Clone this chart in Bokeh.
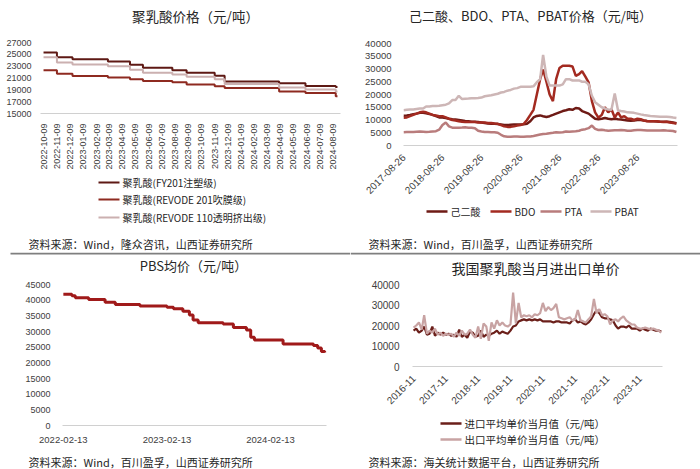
import pandas as pd
from bokeh.plotting import figure
from bokeh.models import (Label, Range1d, FixedTicker, DatetimeTickFormatter, BoxAnnotation)
from bokeh.layouts import column, row
from bokeh.embed import file_html
from bokeh.resources import INLINE
import math

CJK = "Noto Sans CJK SC"
NUM = "Liberation Sans"

# ---------------- Panel 1: PLA prices (step series) ----------------
pla_dates = ["2022-10-09", "2022-11-09", "2022-12-15", "2023-03-07", "2023-04-27",
             "2023-05-27", "2023-08-03", "2023-09-05", "2023-11-09", "2023-12-02",
             "2024-04-06", "2024-06-06", "2024-08-15", "2024-08-19"]
pla_fy201 = [25300, 24500, 24150, 23800, 23250, 22750, 22300, 21900, 21400, 20400,
             20100, 19650, 19500, 19500]
pla_revode201 = [22300, 21700, 21350, 21100, 20800, 20500, 20300, 19900, 19600, 19300,
                 18700, 18450, 17900, 17900]
pla_revode110 = [24500, 23600, 23300, 23000, 22400, 21900, 21600, 21200, 20800, 20000,
                 19400, 19050, 18700, 18700]
pla_names = ["聚乳酸(FY201注塑级)", "聚乳酸(REVODE 201吹膜级)", "聚乳酸(REVODE 110透明挤出级)"]
pla_ticks = ["2022-10-09", "2022-11-09", "2022-12-09", "2023-01-09", "2023-02-09",
             "2023-03-09", "2023-04-09", "2023-05-09", "2023-06-09", "2023-07-09",
             "2023-08-09", "2023-09-09", "2023-10-09", "2023-11-09", "2023-12-09",
             "2024-01-09", "2024-02-09", "2024-03-09", "2024-04-09", "2024-05-09",
             "2024-06-09", "2024-07-09", "2024-08-09"]
pla_yticks = [15000, 17000, 19000, 21000, 23000, 25000, 27000]

# ---------------- Panel 2: raw materials (monthly, 2017-08 .. 2024-08) ----------------
raw_start = "2017-08-26"
adipic = [11700, 11800, 12000, 12300, 12500,
          12800, 12800, 12600, 12300, 12000, 11500, 11000, 11000, 10800, 10500, 10300, 10200,
          10000, 9800, 9600, 9500, 9300, 9300, 9200, 9000, 8800, 8600, 8500, 8500,
          8400, 8200, 8000, 8000, 8100, 8200, 8200, 8200, 8300, 8500, 9500, 11000,
          11600, 11800, 11500, 11200, 11500, 12000, 12500, 13000, 13500, 13800, 14200, 14000,
          14700, 14500, 13500, 13000, 12500, 11500, 10500, 10300, 10500, 10800, 10500, 10300,
          10500, 10300, 10200, 10000, 9800, 9700, 9800, 10000, 10000, 9800, 9600, 9500,
          9500, 9400, 9300, 9300, 9300, 9200, 9000, 8700]
bdo = [10900, 11000, 11500, 12000, 12500,
       13000, 13200, 13000, 12500, 12000, 11800, 11500, 11500, 11000, 10500, 10000, 9800,
       9500, 9300, 9200, 9200, 9200, 9200, 9000, 9000, 9000, 8800, 8800, 8600,
       8500, 8000, 7500, 7300, 7300, 7500, 7800, 8000, 8500, 10000, 12000, 14000,
       20000, 26000, 29800, 25000, 20000, 17400, 26000, 30400, 31300, 31300, 31300, 31000,
       27300, 28000, 29200, 27000, 24800, 17400, 13000, 10900, 12000, 15000, 13000, 14200,
       11000, 13000, 11000, 11500, 10500, 10500, 10000, 10500, 10300, 9800, 9500, 9500,
       9500, 9500, 9300, 9200, 9300, 9000, 8800, 8600]
pta = [5200, 5300, 5300, 5300, 5400,
       5500, 5400, 5300, 5400, 5500, 5600, 6200, 8000, 9000, 7500, 7000, 7000,
       7000, 7100, 7200, 7000, 7000, 6800, 5800, 5500, 5300, 5300, 5200, 5200,
       5000, 4200, 3600, 3400, 3400, 3500, 3500, 3400, 3400, 3500, 3500, 3700,
       4000, 4300, 4500, 4600, 4800, 5000, 5200, 5100, 5200, 5500, 5400, 5500,
       5600, 5800, 6200, 6400, 6800, 7800, 6500, 6100, 6200, 6000, 5800, 5900,
       6000, 6000, 6100, 6000, 5800, 5800, 6000, 6100, 6100, 6000, 5900, 5900,
       5900, 5900, 5900, 6000, 5900, 5800, 5700, 5300]
pbat = [13800, 14000, 14100, 14100, 14300,
        14500, 14500, 15300, 15300, 15500, 15500, 15600, 15800, 16000, 16500, 17800, 17800,
        19500, 18200, 18300, 18400, 18500, 18500, 18600, 18800, 19300, 19500, 19700, 20000,
        20300, 20800, 21000, 21500, 21800, 22300, 22500, 23000, 23000, 23000, 23000, 23200,
        24800, 26000, 35500, 27000, 23500, 23500, 23500, 23500, 24000, 26000, 26000, 25500,
        25500, 25500, 25000, 25000, 24000, 19500, 17000, 16000, 15000, 14500, 14100, 14000,
        20400, 13700, 13500, 13300, 13000, 12900, 12800, 12500, 12200, 12000, 11800, 11600,
        11500, 11400, 11300, 11300, 11300, 11200, 11000, 10800]
raw_names = ["己二酸", "BDO", "PTA", "PBAT"]
raw_ticks = ["2017-08-26", "2018-08-26", "2019-08-26", "2020-08-26",
             "2021-08-26", "2022-08-26", "2023-08-26"]
raw_yticks = [0, 5000, 10000, 15000, 20000, 25000, 30000, 35000, 40000]

# ---------------- Panel 3: PBS average price (step) ----------------
pbs_dates = ["2022-02-13", "2022-03-15", "2022-03-27", "2022-05-13", "2022-07-10",
             "2022-08-15", "2022-11-10", "2023-02-13", "2023-03-08", "2023-04-10",
             "2023-05-03", "2023-05-16", "2023-06-03", "2023-08-30", "2023-10-05",
             "2023-11-20", "2023-12-05", "2023-12-18", "2024-03-28", "2024-07-13",
             "2024-07-28", "2024-08-10", "2024-08-22"]
pbs_price = [41900, 41400, 40800, 40200, 39300, 38600, 38100, 37700, 37300, 36500,
             35300, 33700, 32800, 32400, 31300, 30500, 28200, 27300, 26000, 25500,
             24700, 23600, 23300]
pbs_ticks = ["2022-02-13", "2023-02-13", "2024-02-13"]
pbs_yticks = [0, 5000, 10000, 15000, 20000, 25000, 30000, 35000, 40000, 45000]

# ---------------- Panel 4: PLA import/export unit price (monthly 2016-11 .. 2024-07) ----------------
trade_start = "2016-11-01"
imp_price = [17500, 18500,
             16500, 17500, 19500, 15500, 16000, 19500, 15000, 16500, 15500, 16500, 15500, 16000,
             15000, 15500, 14500, 18000, 14500, 15500, 14000, 17000, 16500, 14500, 15000, 17500,
             14500, 15500, 15000, 16000, 16500, 17500, 16000, 17000, 16500, 16000, 17500, 19500,
             20000, 22000, 22500, 23000, 22500, 23000, 22500, 23000, 22500, 23000, 22000, 22000,
             22000, 22000, 21500, 22000, 22000, 21500, 21500, 21500, 21000, 22500, 23000, 21500,
             22000, 21000, 20500, 21500, 23000, 25500, 27500, 26000, 24000, 23500, 23500, 23000,
             22500, 20000, 18500, 19500, 19500, 19000, 20000, 18500, 18500, 18500, 17500, 18500,
             18000, 17500, 18500, 18000, 17500, 17500, 17000]
exp_price = [19000, 20000,
             21500, 18000, 25000, 16000, 17500, 16500, 18500, 15500, 16500, 15000, 16000, 15500,
             16000, 14500, 16500, 15000, 17500, 15500, 16000, 18000, 15500, 14000, 19500, 13500,
             21000, 19500, 12500, 21500, 18500, 22500, 20000, 21500, 20000, 19500, 20500, 36000,
             21000, 31000, 24000, 25000, 24500, 25000, 24000, 25500, 25000, 26000, 31000, 27000,
             29000, 27500, 28500, 30500, 24000, 23500, 23000, 23500, 24000, 22500, 23000, 27500,
             22500, 22000, 21500, 23000, 24500, 33000, 26000, 28000, 25000, 25500, 24500, 20500,
             22500, 23000, 22000, 23500, 24500, 22500, 21500, 20500, 20500, 19000, 18500, 18500,
             19000, 18500, 18000, 18500, 18000, 17500, 16500]
trade_names = ["进口平均单价当月值（元/吨）", "出口平均单价当月值（元/吨）"]
trade_ticks = ["2016-11", "2017-11", "2018-11", "2019-11", "2020-11",
               "2021-11", "2022-11", "2023-11"]
trade_yticks = [0, 10000, 20000, 30000, 40000]

colors1 = ["#5E1914", "#8E2A20", "#CBB0B0"]
colors2 = ["#6E1A15", "#A32A20", "#B97C7C", "#CDB6B6"]
colors4 = ["#6B1F1A", "#C8A3A3"]


def ms(s):
    return pd.Timestamp(s).value // 10**6


def chart(w, h, xr, yr, bl, br, bt, bb):
    p = figure(width=w, height=h, x_axis_type="datetime", x_range=xr, y_range=yr,
               output_backend="svg", toolbar_location=None, frame_align=False,
               min_border_left=bl, min_border_right=br, min_border_top=bt,
               min_border_bottom=bb)
    p.outline_line_color = None
    p.grid.visible = False
    for ax in (p.xaxis[0], p.yaxis[0]):
        ax.major_tick_line_color = None
        ax.minor_tick_line_color = None
        ax.major_label_text_color = "#404040"
        ax.major_label_text_font = NUM
    p.yaxis.axis_line_color = None
    p.xaxis.axis_line_color = "#D0D0D0"
    return p


def strip(w, h):
    f = figure(width=w, height=h, x_range=Range1d(0, w), y_range=Range1d(0, h),
               output_backend="svg", toolbar_location=None, frame_align=False,
               x_axis_location=None, y_axis_location=None,
               min_border_left=0, min_border_right=0, min_border_top=0,
               min_border_bottom=0)
    f.outline_line_color = None
    f.grid.visible = False
    return f


def add_text(f, text, x, y, size, align="left", color="#262626", font=CJK):
    f.add_layout(Label(x=x, y=y, text=text, text_font=font,
                       text_font_size=f"{size}px", text_align=align,
                       text_baseline="middle", text_color=color))


def add_keys(f, names, colors, xs, ys, thick, size, klen=21, gap=3):
    for n, c, x, y in zip(names, colors, xs, ys):
        f.add_layout(BoxAnnotation(left=x, right=x + klen, bottom=y - thick / 2,
                                   top=y + thick / 2, fill_color=c, fill_alpha=1,
                                   line_color=None))
        add_text(f, n, x + klen + gap, y, size)


fmt_d = "%Y-%m-%d"
fmt_m = "%Y-%m"

# ---------- Panel 1 ----------
t1 = strip(350, 30)
add_text(t1, "聚乳酸价格（元/吨）", 195, 15, 13.5, align="center")
p1 = chart(350, 142, Range1d(pd.Timestamp("2022-10-02"), pd.Timestamp("2024-08-26")),
           Range1d(15000, 27000), 40, 10, 12, 59)
d1 = pd.to_datetime(pla_dates)
for vals, c in zip([pla_fy201, pla_revode201, pla_revode110], colors1):
    p1.step(d1, vals, mode="after", line_color=c, line_width=2)
p1.yaxis.ticker = FixedTicker(ticks=pla_yticks)
p1.xaxis.ticker = FixedTicker(ticks=[ms(t) for t in pla_ticks])
p1.xaxis.formatter = DatetimeTickFormatter(days=fmt_d, months=fmt_d, years=fmt_d)
p1.xaxis.major_label_orientation = math.pi / 2
p1.xaxis.major_label_text_font_size = "9px"
p1.yaxis.major_label_text_font_size = "9px"
p1.yaxis.major_label_standoff = 3
p1.xaxis.major_label_standoff = 4
b1 = strip(350, 80)
add_keys(b1, pla_names, colors1, [98, 98, 98], [70, 53, 35], 2, 10)
add_text(b1, "资料来源：Wind，隆众咨讯，山西证券研究所", 28, 9, 11)

# ---------- Panel 2 ----------
t2 = strip(350, 30)
add_text(t2, "己二酸、BDO、PTA、PBAT价格（元/吨）", 180, 15, 13, align="center")
p2 = chart(350, 170, Range1d(pd.Timestamp("2017-08-26"), pd.Timestamp("2024-09-05")),
           Range1d(0, 40000), 53, 23, 13, 51)
d2 = pd.date_range(raw_start, periods=len(adipic), freq=pd.DateOffset(months=1))
for vals, c in zip([adipic, bdo, pta, pbat], colors2):
    p2.line(d2, vals, line_color=c, line_width=2.5)
p2.yaxis.ticker = FixedTicker(ticks=raw_yticks)
p2.xaxis.ticker = FixedTicker(ticks=[ms(t) for t in raw_ticks])
p2.xaxis.formatter = DatetimeTickFormatter(days=fmt_d, months=fmt_d, years=fmt_d)
p2.xaxis.major_label_orientation = math.pi / 4
p2.xaxis.major_label_text_font_size = "10px"
p2.yaxis.major_label_text_font_size = "9.5px"
p2.yaxis.major_label_standoff = 6
p2.xaxis.major_label_standoff = 4
b2 = strip(350, 52)
add_keys(b2, raw_names, colors2, [76, 140, 190, 240], [41, 41, 41, 41], 2.5, 10)
add_text(b2, "资料来源：Wind，百川盈孚，山西证券研究所", 18, 9, 11)

# ---------- Panel 3 ----------
t3 = strip(350, 26)
t3.add_layout(BoxAnnotation(left=10, right=350, bottom=24, top=26,
                            fill_color="#7F7F7F", fill_alpha=1, line_color=None))
add_text(t3, "PBS均价（元/吨）", 193, 13, 13, align="center")
p3 = chart(350, 167, Range1d(pd.Timestamp("2022-02-10"), pd.Timestamp("2024-08-28")),
           Range1d(0, 45000), 62, 24, 6, 19)
d3 = pd.to_datetime(pbs_dates)
p3.step(d3, pbs_price, mode="after", line_color="#A01A1A", line_width=3)
p3.yaxis.ticker = FixedTicker(ticks=pbs_yticks)
p3.xaxis.ticker = FixedTicker(ticks=[ms(t) for t in pbs_ticks])
p3.xaxis.formatter = DatetimeTickFormatter(days=fmt_d, months=fmt_d, years=fmt_d)
p3.xaxis.major_label_text_font_size = "9.5px"
p3.yaxis.major_label_text_font_size = "9px"
p3.yaxis.major_label_standoff = 6
p3.xaxis.major_label_standoff = 5
b3 = strip(350, 24)
add_text(b3, "资料来源：Wind，百川盈孚，山西证券研究所", 28, 8, 11)

# ---------- Panel 4 ----------
t4 = strip(350, 26)
t4.add_layout(BoxAnnotation(left=0, right=350, bottom=24, top=26,
                            fill_color="#7F7F7F", fill_alpha=1, line_color=None))
add_text(t4, "我国聚乳酸当月进出口单价", 185, 11, 14, align="center")
p4 = chart(350, 134, Range1d(pd.Timestamp("2016-10-20"), pd.Timestamp("2024-07-15")),
           Range1d(0, 40000), 62, 38, 6, 46)
d4 = pd.date_range(trade_start, periods=len(imp_price), freq="MS")
p4.line(d4, imp_price, line_color=colors4[0], line_width=2.2)
p4.line(d4, exp_price, line_color=colors4[1], line_width=2.2)
p4.yaxis.ticker = FixedTicker(ticks=trade_yticks)
p4.xaxis.ticker = FixedTicker(ticks=[ms(t) for t in trade_ticks])
p4.xaxis.formatter = DatetimeTickFormatter(days=fmt_m, months=fmt_m, years=fmt_m)
p4.xaxis.major_label_orientation = math.pi / 4
p4.xaxis.major_label_text_font_size = "10px"
p4.yaxis.major_label_text_font_size = "10px"
p4.yaxis.major_label_standoff = 7
p4.xaxis.major_label_standoff = 4
b4 = strip(350, 57)
add_keys(b4, trade_names, colors4, [90, 90], [46, 30], 2.5, 10.5)
add_text(b4, "资料来源：海关统计数据平台，山西证券研究所", 18, 8, 11)

layout = column(
    row(column(t1, p1, b1), column(t2, p2, b2)),
    row(column(t3, p3, b3), column(t4, p4, b4)),
)
open("out.html", "w").write(file_html(layout, INLINE))
